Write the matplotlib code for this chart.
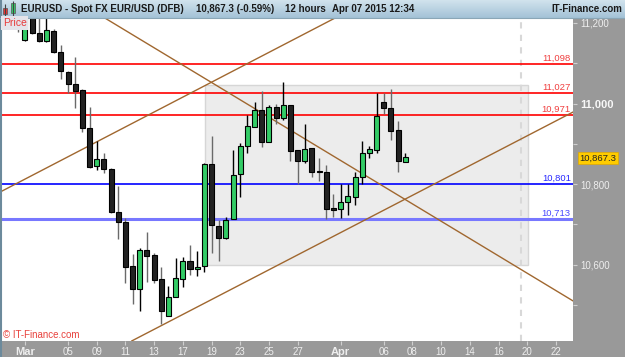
import matplotlib
matplotlib.use("Agg")
import matplotlib.pyplot as plt
import numpy as np
from matplotlib.patches import Rectangle
from matplotlib.transforms import blended_transform_factory

plt.rcParams['font.family'] = ['Liberation Sans', 'DejaVu Sans']

# EURUSD 12-hour candles (x100 as on the chart), index 0 = Mar 02 2015 00:00
first_candle = -1
opens = [11240, 11158, 11218, 11175, 11155, 11180, 11127, 11078, 11048, 11033,
         10939, 10845, 10862, 10837, 10731, 10706, 10597, 10540, 10636, 10624,
         10564, 10473, 10520, 10564, 10609, 10589, 10597, 10850, 10696, 10666,
         10713, 10825, 10895, 10942, 10984, 10904, 10991, 10964, 10996, 10885,
         10857, 10890, 10833, 10830, 10738, 10738, 10756, 10768, 10818, 10877,
         10885, 11004, 10989, 10934, 10855]
highs = [11262, 11240, 11230, 11215, 11212, 11185, 11145, 11080, 11115, 11035,
         10991, 10907, 10877, 10840, 10795, 10716, 10627, 10641, 10681, 10629,
         10594, 10547, 10617, 10619, 10649, 10634, 10852, 10919, 10711, 10718,
         10885, 10902, 10971, 11004, 11031, 10996, 10999, 11053, 10996, 10885,
         10949, 10890, 10865, 10847, 10775, 10800, 10800, 10830, 10907, 10895,
         11026, 11026, 11036, 10957, 10877]
lows = [11178, 11155, 11172, 11153, 11153, 11125, 11062, 11026, 10989, 10929,
        10840, 10835, 10828, 10729, 10664, 10555, 10502, 10485, 10557, 10555,
        10453, 10473, 10520, 10545, 10574, 10572, 10582, 10629, 10609, 10664,
        10713, 10768, 10877, 10942, 10892, 10904, 10949, 10959, 10857, 10800,
        10852, 10818, 10808, 10713, 10718, 10716, 10723, 10748, 10800, 10865,
        10877, 10974, 10909, 10830, 10855]
closes = [11222, 11230, 11175, 11155, 11182, 11128, 11080, 11048, 11031, 10939,
          10842, 10862, 10837, 10731, 10706, 10594, 10540, 10636, 10622, 10562,
          10485, 10520, 10567, 10609, 10589, 10594, 10850, 10699, 10666, 10711,
          10823, 10895, 10944, 10984, 10904, 10991, 10964, 10996, 10882, 10857,
          10887, 10830, 10830, 10738, 10737, 10756, 10770, 10818, 10877, 10887,
          10969, 10989, 10932, 10857, 10867.3]

# horizontal levels
red_levels = [11098, 11027, 10971]
blue_levels = [10801, 10713]

# trend lines: (candle index, price) anchor pairs
trend_down = [(11.15, 11212), (76.4, 10510)]
trend_up_1 = [(-3.5, 10780), (43.2, 11212)]
trend_up_2 = [(14.9, 10411), (76.4, 10979)]

# consolidation box (candle index range, price range) and dashed marker
zone_x = [25.1, 70.1]
zone_y = [10599, 11046]
marker_x = 69.1

# x axis: trading day index of each label (one day = two candles)
day_ticks = [0, 3, 5, 7, 9, 11, 13, 15, 17, 19, 22, 25, 27, 29, 31, 33, 35, 37]
day_labels = ['Mar', '05', '09', '11', '13', '17', '19', '23', '25', '27',
              'Apr', '06', '08', '10', '14', '16', '20', '22']
price_ticks = [10600, 10800, 11000, 11200]
price_minor = [10500, 10700, 10900, 11100]
last_price = 10867.3

W, H = 625, 357
fig = plt.figure(figsize=(W / 100, H / 100), dpi=100, facecolor='#999999')

ax = fig.add_axes([2 / W, 16 / H, 571 / W, 323 / H])
ax.set_facecolor('white')
ax.set_xlim(-3.2, 76.38)
ax.set_ylim(10410.7, 11212.2)
for s in ax.spines.values():
    s.set_visible(False)

# zone + marker
ax.add_patch(Rectangle((zone_x[0], zone_y[0]), zone_x[1] - zone_x[0], zone_y[1] - zone_y[0],
                       facecolor='#ececec', edgecolor='#d6d6d6', lw=1, zorder=1))
ax.axvline(marker_x, color='#d8d8d8', lw=1.5, ls=(0, (3, 3)), zorder=1.5)

# levels
for lv in red_levels:
    ax.axhline(lv, color='#ff0000', lw=1.2, zorder=2)
ax.axhline(blue_levels[0], color='#0000ff', lw=1.2, zorder=2)
ax.axhline(blue_levels[1], color='#7878ff', lw=2.2, zorder=2)

trans = blended_transform_factory(ax.transAxes, ax.transData)
for lv in red_levels:
    ax.text(0.996, lv + 14, f"{lv:,}", transform=trans, ha='right', va='center',
            color='#f04040', fontsize=6.8, zorder=6)
ax.text(0.996, blue_levels[0] + 14, f"{blue_levels[0]:,}", transform=trans, ha='right',
        va='center', color='#2a2aff', fontsize=6.8, zorder=6)
ax.text(0.996, blue_levels[1] + 14, f"{blue_levels[1]:,}", transform=trans, ha='right',
        va='center', color='#4848ff', fontsize=6.8, zorder=6)

# trend lines
for tl in (trend_down, trend_up_1, trend_up_2):
    ax.plot([tl[0][0], tl[1][0]], [tl[0][1], tl[1][1]], color='#a0672f', lw=1.0, zorder=3)

# candles
xs = np.arange(len(opens)) + first_candle
for x, o, h, l, c in zip(xs, opens, highs, lows, closes):
    up = c >= o
    ax.vlines(x, l, h, color='#000000' if up else '#6a6a6a', lw=1.0, zorder=4)
    body = max(abs(c - o), 2.5)
    ax.add_patch(Rectangle((x - 0.35, min(o, c)), 0.7, body,
                           facecolor='#33cc66' if up else '#222222',
                           edgecolor='black', lw=0.8, zorder=5))

# right price axis
ax.yaxis.tick_right()
ax.set_yticks(price_ticks, [f"{p:,}" for p in price_ticks])
ax.set_yticks(price_minor, minor=True)
ax.tick_params(axis='y', which='both', direction='out', length=3, width=0.8,
               color='#d0d0d0', labelcolor='#eeeeee', labelsize=7, pad=2)
for t in ax.get_yticklabels():
    if t.get_text() == '11,000':
        t.set_fontweight('bold')
        t.set_fontsize(8)
        t.set_color('#f8f8f8')

# bottom date axis
ax.set_xticks([2 * d for d in day_ticks], day_labels)
ax.tick_params(axis='x', direction='out', length=3, width=0.8, color='#d0d0d0',
               labelcolor='#eeeeee', labelsize=7, pad=1)
for t in ax.get_xticklabels():
    if t.get_text() in ('Mar', 'Apr'):
        t.set_fontweight('bold')
        t.set_fontsize(8)

# last price tag
fig.text(598 / W, 1 - 158 / H, f"{last_price:,.1f}", ha='center', va='center', fontsize=6.8,
         color='#222222', bbox=dict(boxstyle='square,pad=0.12', facecolor='#ffcc00',
                                    edgecolor='#e0a800', lw=0.5))

# header bar
hax = fig.add_axes([0, 1 - 18 / H, 1, 18 / H])
grad = np.linspace(0, 1, 32).reshape(-1, 1)
top = np.array([0.82, 0.89, 0.93])
bot = np.array([0.64, 0.76, 0.84])
img = top + grad[..., None] * (bot - top)
hax.imshow(img.reshape(32, 1, 3), aspect='auto', extent=[0, W, 18, 0])
hax.set_xlim(0, W)
hax.set_ylim(18, 0)
hax.axis('off')
# small candle icon
hax.vlines([5, 12.5], [4, 1], [16, 16], color='#444444', lw=0.8)
hax.add_patch(Rectangle((3, 8), 4, 6, facecolor='#ee3333', edgecolor='#555555', lw=0.5))
hax.add_patch(Rectangle((10.5, 3), 4, 10, facecolor='#33cc66', edgecolor='#555555', lw=0.5))
hdr = dict(fontsize=7, fontweight='bold', color='#1a1a1a', va='center')
hax.text(21, 9, 'EURUSD - Spot FX EUR/USD (DFB)', **hdr)
hax.text(196, 9, '10,867.3 (-0.59%)', **hdr)
hax.text(285, 9, '12 hours', **hdr)
hax.text(332, 9, 'Apr 07 2015 12:34', **hdr)
hax.text(622, 9, 'IT-Finance.com', ha='right', **hdr)

# "Price" tag and watermark
fig.text(3 / W, 1 - 23 / H, 'Price', fontsize=7.5, color='#e83a3a', va='center', ha='left',
         bbox=dict(boxstyle='square,pad=0.15', facecolor='#e4e4ea', edgecolor='none'))
fig.text(3 / W, 1 - 335 / H, '\u00a9 IT-Finance.com', fontsize=7, color='#e8413c',
         va='center', ha='left')

# frame lines
fig.add_artist(plt.Line2D([1 / W, 1 / W], [0, 1], color='#6c8a9c', lw=1.5))
fig.add_artist(plt.Line2D([0, 1], [1 - 18 / H, 1 - 18 / H], color='#8aa6b6', lw=0.8))

fig.savefig('out.png', dpi=100, facecolor=fig.get_facecolor())
